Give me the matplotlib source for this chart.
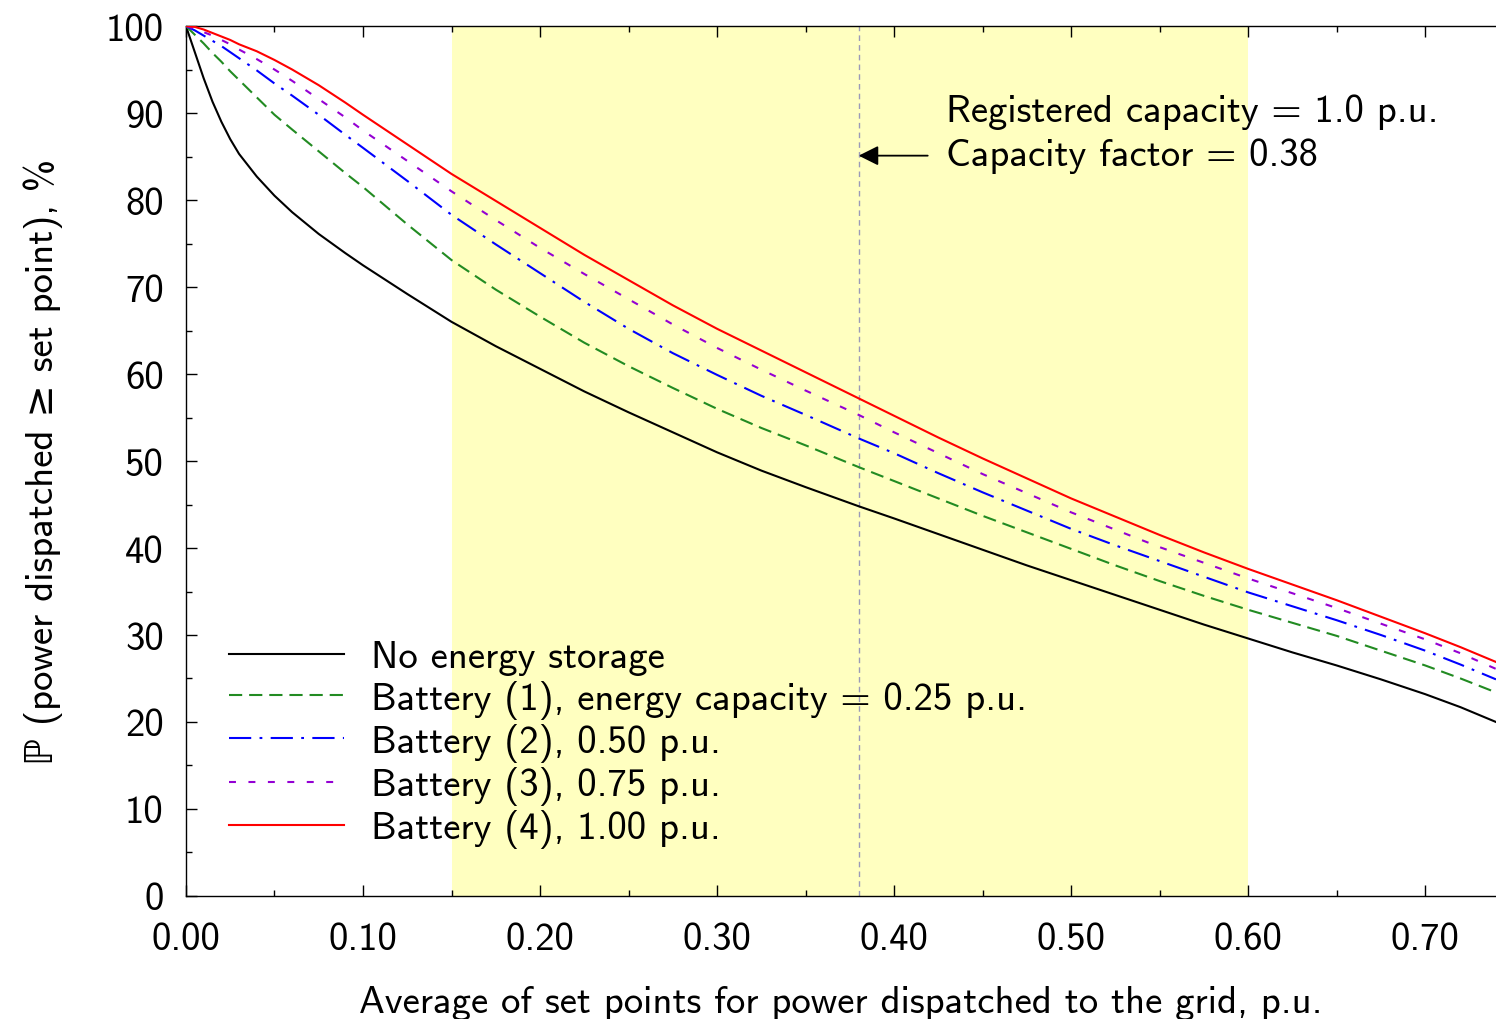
import matplotlib
matplotlib.use("Agg")
import matplotlib.pyplot as plt
from matplotlib.ticker import MultipleLocator, FixedLocator, FixedFormatter

# ---------------- data ----------------
x_pu = [0, 0.005, 0.01, 0.015, 0.02, 0.025, 0.03, 0.04, 0.05, 0.06, 0.075, 0.09, 0.10,
        0.125, 0.15, 0.175, 0.20, 0.225, 0.25, 0.275, 0.30, 0.325, 0.35, 0.38, 0.40,
        0.425, 0.45, 0.475, 0.50, 0.525, 0.55, 0.575, 0.60, 0.625, 0.65, 0.675, 0.70,
        0.72, 0.74]
no_storage = [100, 97.0, 94.0, 91.3, 89.0, 87.0, 85.3, 82.7, 80.5, 78.6, 76.1, 73.9, 72.5,
              69.2, 66.0, 63.2, 60.6, 58.0, 55.6, 53.3, 51.0, 48.9, 47.0, 44.8, 43.4,
              41.6, 39.8, 38.0, 36.3, 34.6, 32.9, 31.2, 29.6, 28.0, 26.5, 24.9, 23.2,
              21.7, 20.0]
battery_1 = [100, 99.0, 98.0, 96.9, 95.9, 94.8, 93.8, 91.8, 89.8, 88.1, 85.6, 83.1, 81.5,
             77.2, 73.1, 69.7, 66.6, 63.6, 60.9, 58.4, 56.0, 53.8, 51.8, 49.3, 47.7,
             45.7, 43.7, 41.8, 39.9, 38.0, 36.2, 34.5, 32.9, 31.4, 29.9, 28.2, 26.5,
             25.0, 23.4]
battery_2 = [100, 99.5, 98.9, 98.3, 97.7, 97.0, 96.3, 94.9, 93.4, 92.0, 89.8, 87.5, 86.0,
             82.2, 78.3, 74.9, 71.6, 68.3, 65.2, 62.4, 59.9, 57.5, 55.3, 52.6, 50.9,
             48.6, 46.4, 44.3, 42.2, 40.3, 38.5, 36.7, 34.9, 33.3, 31.7, 30.0, 28.2,
             26.6, 24.9]
battery_3 = [100, 99.7, 99.3, 98.9, 98.4, 97.9, 97.3, 96.2, 95.0, 93.7, 91.6, 89.5, 88.0,
             84.5, 81.0, 77.7, 74.5, 71.5, 68.6, 65.7, 63.0, 60.5, 58.1, 55.3, 53.3,
             50.9, 48.5, 46.3, 44.1, 42.1, 40.1, 38.3, 36.5, 34.8, 33.1, 31.3, 29.5,
             27.9, 26.1]
battery_4 = [100, 99.9, 99.6, 99.2, 98.8, 98.4, 97.9, 97.1, 96.1, 95.0, 93.2, 91.2, 89.8,
             86.4, 83.0, 79.9, 76.8, 73.7, 70.8, 67.9, 65.2, 62.7, 60.2, 57.2, 55.2,
             52.7, 50.3, 48.0, 45.7, 43.6, 41.5, 39.5, 37.6, 35.8, 34.0, 32.1, 30.2,
             28.6, 26.9]

series_labels = ["No energy storage",
                 "Battery (1), energy capacity = 0.25 p.u.",
                 "Battery (2), 0.50 p.u.",
                 "Battery (3), 0.75 p.u.",
                 "Battery (4), 1.00 p.u."]

x_ticks = [0.0, 0.1, 0.2, 0.3, 0.4, 0.5, 0.6, 0.7]
x_tick_labels = ["0.00", "0.10", "0.20", "0.30", "0.40", "0.50", "0.60", "0.70"]
y_ticks = [0, 10, 20, 30, 40, 50, 60, 70, 80, 90, 100]
y_tick_labels = [str(v) for v in y_ticks]

band_start, band_end = 0.15, 0.60
capacity_factor = 0.38

# ---------------- style ----------------
plt.rcParams['font.family'] = ['cmss10', 'DejaVu Sans']
plt.rcParams['font.size'] = 27.9
plt.rcParams['lines.scale_dashes'] = False
plt.rcParams['axes.unicode_minus'] = False

fig = plt.figure(figsize=(14.96, 10.20), dpi=100)
ax = fig.add_axes([0.1243, 0.1206, 0.8757, 0.8529])

ax.axvspan(band_start, band_end, color='#ffffc0', zorder=0, lw=0)
ax.axvline(capacity_factor, color='#9a9ab8', lw=1.0, dashes=(4, 3), zorder=1)

lw = 1.5
ax.plot(x_pu, no_storage, color='black', lw=lw, label=series_labels[0], zorder=3)
ax.plot(x_pu, battery_1, color='#228b22', lw=lw, dashes=(9.5, 5), label=series_labels[1], zorder=3)
ax.plot(x_pu, battery_2, color='#0000ff', lw=lw, dashes=(16, 6, 2, 6), label=series_labels[2], zorder=3)
ax.plot(x_pu, battery_3, color='#9400d3', lw=lw, dashes=(5, 9), label=series_labels[3], zorder=3)
ax.plot(x_pu, battery_4, color='#ff0000', lw=lw, label=series_labels[4], zorder=3)

ax.set_xlim(0, 0.74)
ax.set_ylim(0, 100)

ax.xaxis.set_major_locator(FixedLocator(x_ticks))
ax.xaxis.set_major_formatter(FixedFormatter(x_tick_labels))
ax.xaxis.set_minor_locator(MultipleLocator(0.05))
ax.yaxis.set_major_locator(FixedLocator(y_ticks))
ax.yaxis.set_major_formatter(FixedFormatter(y_tick_labels))
ax.yaxis.set_minor_locator(MultipleLocator(5))

ax.tick_params(which='both', direction='in', top=True, right=False, width=1.0, color='black')
ax.tick_params(which='major', length=8)
ax.tick_params(which='minor', length=4)
ax.tick_params(axis='x', which='major', pad=19)
ax.tick_params(axis='y', which='major', pad=16)

ax.spines['right'].set_visible(False)
for s in ['left', 'bottom', 'top']:
    ax.spines[s].set_linewidth(1.0)

ax.set_xlabel("Average of set points for power dispatched to the grid, p.u.", labelpad=20)
ax.set_ylabel("ℙ (power dispatched ≥ set point), %", labelpad=31)

ax.annotate("", xy=(capacity_factor, 85.1), xytext=(0.419, 85.1),
            arrowprops=dict(arrowstyle='-|>', color='black', lw=1.3, mutation_scale=30,
                            shrinkA=0, shrinkB=0), zorder=4)
ax.text(0.4294, 90.2, "Registered capacity = 1.0 p.u.", va='center', ha='left', zorder=4)
ax.text(0.4294, 85.2, "Capacity factor = 0.38", va='center', ha='left', zorder=4)

leg = ax.legend(loc='upper left', bbox_to_anchor=(0.033, 0.294), frameon=False,
                handlelength=2.97, handletextpad=0.70, labelspacing=0.11,
                borderpad=0, borderaxespad=0)
leg.set_zorder(5)

fig.savefig("out.png", dpi=100)
